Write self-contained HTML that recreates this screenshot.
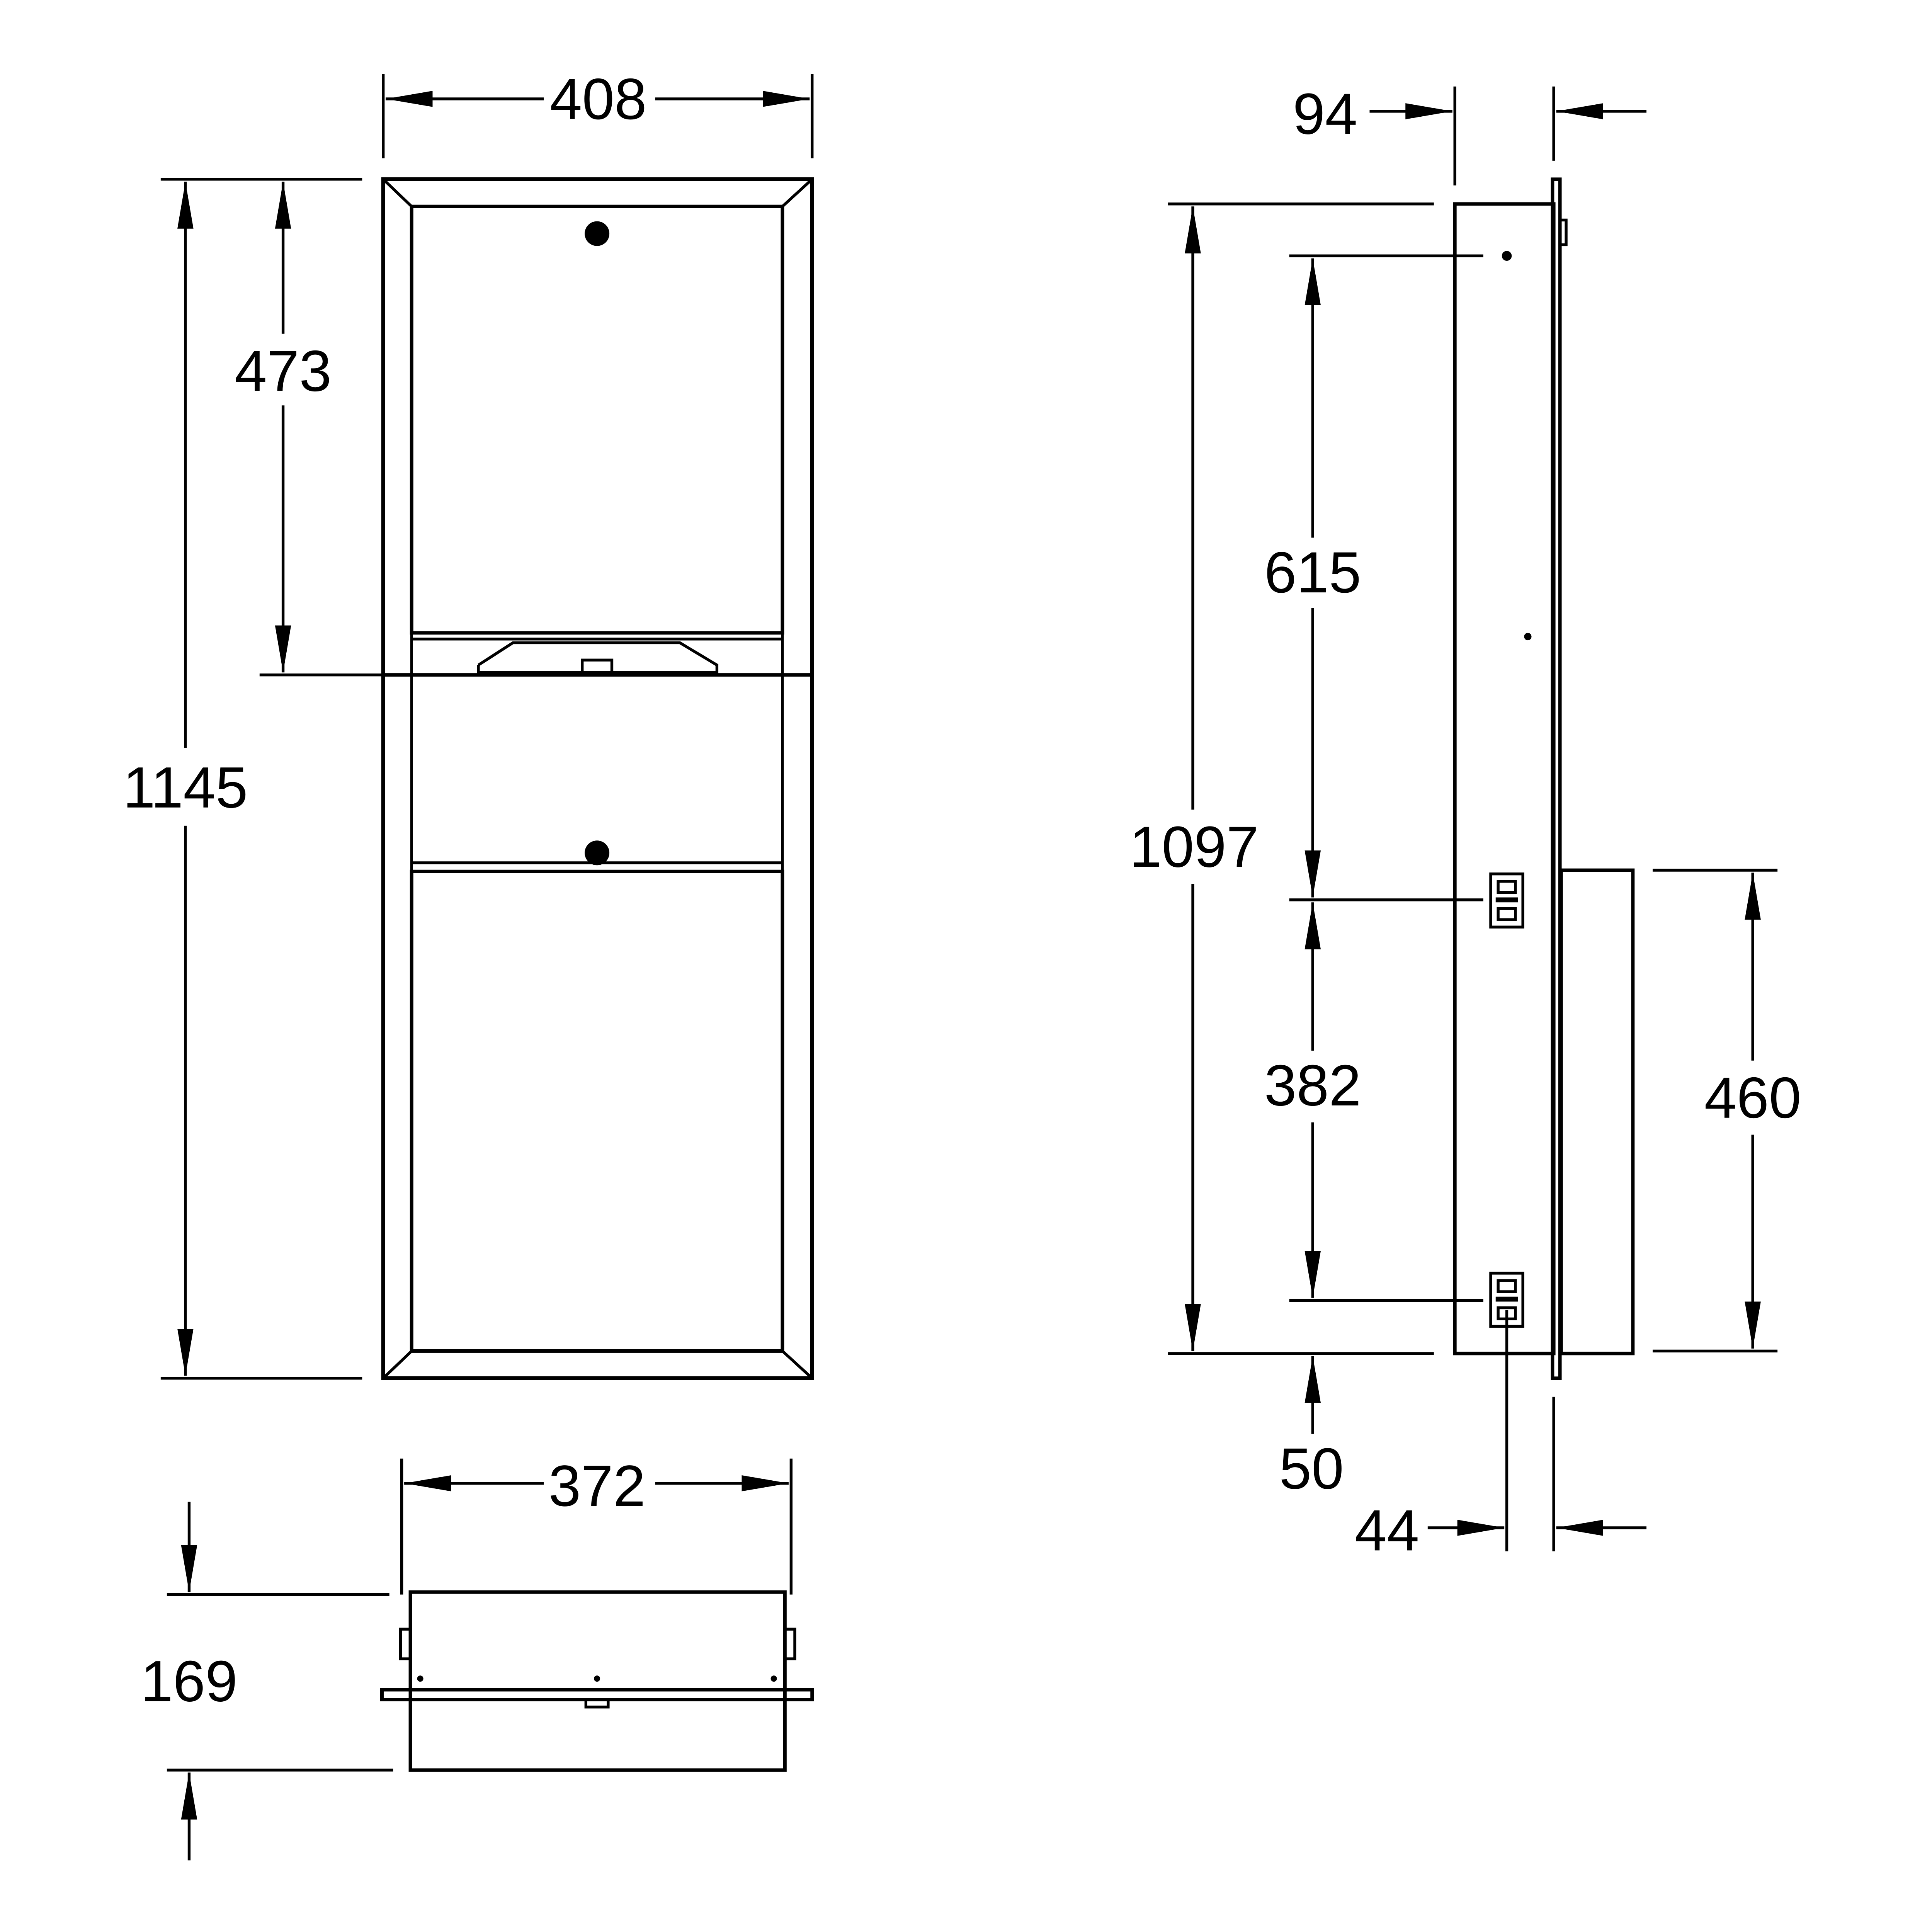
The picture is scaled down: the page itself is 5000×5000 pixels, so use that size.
<!DOCTYPE html>
<html><head><meta charset="utf-8"><style>
html,body{margin:0;padding:0;background:#fff;}
svg{display:block;}
text{font-family:"Liberation Sans",sans-serif;font-size:47px;fill:#000;text-anchor:middle;dominant-baseline:central;}
</style></head><body>
<svg width="5000" height="5000" viewBox="0 0 1563 1563" xmlns="http://www.w3.org/2000/svg">
<defs>
<marker id="a" markerUnits="userSpaceOnUse" markerWidth="40" markerHeight="14" refX="38" refY="6.5" orient="auto-start-reverse" viewBox="0 0 40 13"><path d="M0,0 L38,6.5 L0,13 Z" fill="#000"/></marker>
</defs>
<g fill="none" stroke="#000" stroke-width="2.3">
<rect x="310" y="145" width="347" height="970" stroke-width="3.2"/>
<rect x="333" y="167" width="300" height="345" stroke-width="2.8"/>
<rect x="333" y="705" width="300" height="388" stroke-width="2.8"/>
<line x1="310" y1="145" x2="333" y2="167"/><line x1="657" y1="145" x2="633" y2="167"/>
<line x1="310" y1="1115" x2="333" y2="1093"/><line x1="657" y1="1115" x2="633" y2="1093"/>
<line x1="333" y1="167" x2="333" y2="1093"/><line x1="633" y1="167" x2="633" y2="1093"/>
<line x1="310" y1="546" x2="657" y2="546" stroke-width="2.8"/>
<line x1="333" y1="517" x2="633" y2="517"/>
<polyline points="387,538 415,520 550,520 580,538 580,544 387,544 387,538"/>
<rect x="471" y="534" width="24" height="10"/>
<line x1="333" y1="698" x2="633" y2="698"/>
<line x1="310" y1="60" x2="310" y2="128"/><line x1="657" y1="60" x2="657" y2="128"/>
<line x1="312" y1="80" x2="440" y2="80" marker-start="url(#a)"/>
<line x1="530" y1="80" x2="655" y2="80" marker-end="url(#a)"/>
<line x1="130" y1="145" x2="293" y2="145"/><line x1="130" y1="1115" x2="293" y2="1115"/>
<line x1="150" y1="147" x2="150" y2="605" marker-start="url(#a)"/>
<line x1="150" y1="668" x2="150" y2="1113" marker-end="url(#a)"/>
<line x1="210" y1="546" x2="313" y2="546"/>
<line x1="229" y1="147" x2="229" y2="270" marker-start="url(#a)"/>
<line x1="229" y1="328" x2="229" y2="544" marker-end="url(#a)"/>
<rect x="332" y="1288" width="303" height="144" stroke-width="2.8"/>
<rect x="309" y="1367" width="348" height="8" stroke-width="2.8"/>
<rect x="324" y="1318" width="8" height="24"/><rect x="635" y="1318" width="8" height="24"/>
<rect x="474" y="1375" width="18" height="6"/>
<line x1="325" y1="1180" x2="325" y2="1290"/><line x1="640" y1="1180" x2="640" y2="1290"/>
<line x1="327" y1="1200" x2="440" y2="1200" marker-start="url(#a)"/>
<line x1="530" y1="1200" x2="638" y2="1200" marker-end="url(#a)"/>
<line x1="135" y1="1290" x2="315" y2="1290"/><line x1="135" y1="1432" x2="318" y2="1432"/>
<line x1="153" y1="1215" x2="153" y2="1288" marker-end="url(#a)"/>
<line x1="153" y1="1505" x2="153" y2="1434" marker-end="url(#a)"/>
<rect x="1177" y="165" width="80" height="930" stroke-width="2.8"/>
<rect x="1256" y="145" width="6" height="970" stroke-width="2.8"/>
<rect x="1262" y="178" width="5" height="20"/>
<rect x="1263" y="704" width="58" height="391" stroke-width="2.8"/>
<rect x="1206" y="707" width="26" height="43"/><rect x="1212" y="713" width="14" height="9"/><rect x="1212" y="735" width="14" height="9"/><line x1="1210" y1="728" x2="1228" y2="728" stroke-width="4"/>
<rect x="1206" y="1030" width="26" height="43"/><rect x="1212" y="1036" width="14" height="9"/><rect x="1212" y="1058" width="14" height="9"/><line x1="1210" y1="1051" x2="1228" y2="1051" stroke-width="4"/>
<line x1="945" y1="165" x2="1160" y2="165"/><line x1="945" y1="1095" x2="1160" y2="1095"/>
<line x1="965" y1="167" x2="965" y2="655" marker-start="url(#a)"/>
<line x1="965" y1="715" x2="965" y2="1093" marker-end="url(#a)"/>
<line x1="1043" y1="207" x2="1200" y2="207"/>
<line x1="1043" y1="728" x2="1200" y2="728"/>
<line x1="1043" y1="1052" x2="1200" y2="1052"/>
<line x1="1062" y1="209" x2="1062" y2="435" marker-start="url(#a)"/>
<line x1="1062" y1="492" x2="1062" y2="726" marker-end="url(#a)"/>
<line x1="1062" y1="730" x2="1062" y2="850" marker-start="url(#a)"/>
<line x1="1062" y1="908" x2="1062" y2="1050" marker-end="url(#a)"/>
<line x1="1062" y1="1160" x2="1062" y2="1097" marker-end="url(#a)"/>
<line x1="1337" y1="704" x2="1438" y2="704"/><line x1="1337" y1="1093" x2="1438" y2="1093"/>
<line x1="1418" y1="706" x2="1418" y2="858" marker-start="url(#a)"/>
<line x1="1418" y1="918" x2="1418" y2="1091" marker-end="url(#a)"/>
<line x1="1177" y1="70" x2="1177" y2="150"/><line x1="1257" y1="70" x2="1257" y2="130"/>
<line x1="1108" y1="90" x2="1175" y2="90" marker-end="url(#a)"/>
<line x1="1332" y1="90" x2="1259" y2="90" marker-end="url(#a)"/>
<line x1="1219" y1="1060" x2="1219" y2="1255"/><line x1="1257" y1="1130" x2="1257" y2="1255"/>
<line x1="1155" y1="1236" x2="1217" y2="1236" marker-end="url(#a)"/>
<line x1="1332" y1="1236" x2="1259" y2="1236" marker-end="url(#a)"/>
</g>
<g fill="#000">
<circle cx="483" cy="189" r="10"/><circle cx="483" cy="690" r="10"/>
<circle cx="340" cy="1358" r="2.5"/><circle cx="483" cy="1358" r="2.5"/><circle cx="626" cy="1358" r="2.5"/>
<circle cx="1219" cy="207" r="4"/><circle cx="1236" cy="515" r="3"/>
</g>
<text x="484" y="80">408</text>
<text x="150" y="637">1145</text>
<text x="229" y="300">473</text>
<text x="483" y="1202">372</text>
<text x="153" y="1360">169</text>
<text x="966" y="685">1097</text>
<text x="1062" y="463">615</text>
<text x="1062" y="878">382</text>
<text x="1418" y="888">460</text>
<text x="1061" y="1188">50</text>
<text x="1072" y="92">94</text>
<text x="1122" y="1238">44</text>
</svg>
</body></html>
